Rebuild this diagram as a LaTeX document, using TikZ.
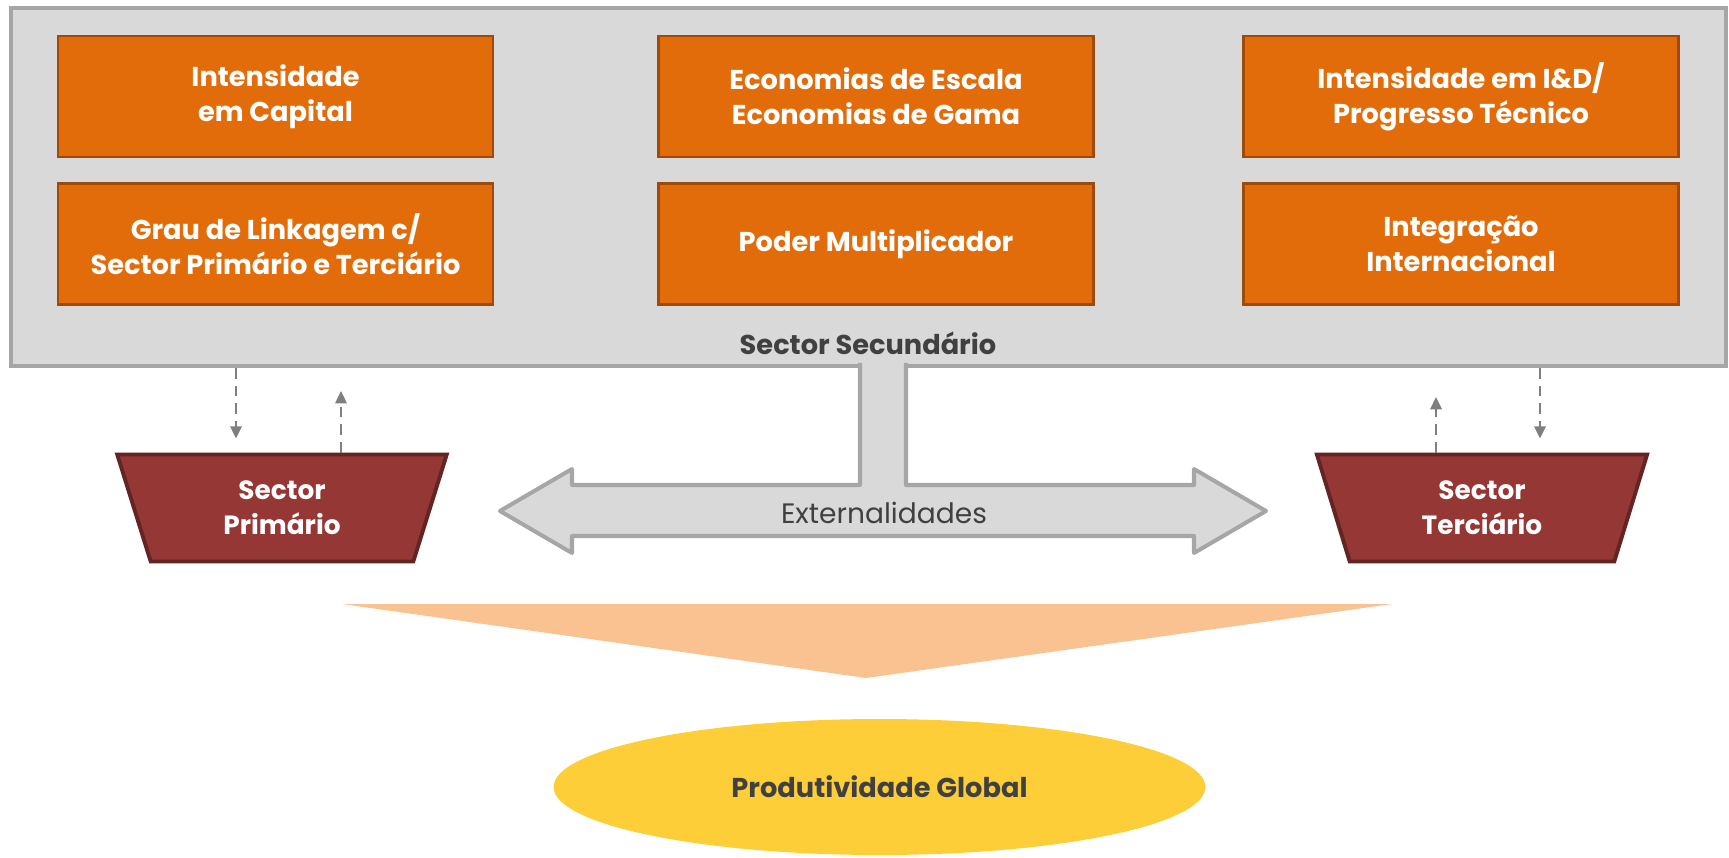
\documentclass[tikz,border=0pt]{standalone}
\usepackage{fontspec}
\setmainfont{Poppins}
\usetikzlibrary{arrows.meta, shapes.geometric}
\definecolor{boxorange}{HTML}{E36C0A}
\definecolor{boxedge}{HTML}{A04A0A}
\definecolor{secgray}{HTML}{D9D9D9}
\definecolor{secedge}{HTML}{A6A6A6}
\definecolor{sectred}{HTML}{953735}
\definecolor{sectedge}{HTML}{632523}
\definecolor{funnel}{HTML}{FAC290}
\definecolor{globyellow}{HTML}{FDCE38}
\definecolor{txtgray}{HTML}{404040}
\definecolor{dashgray}{HTML}{7F7F7F}

\tikzset{
    factor/.style={draw=boxedge, fill=boxorange, line width=1.6pt, minimum width=8.7cm, minimum height=2.42cm,
        text=white, font=\bfseries\fontsize{15.5}{20}\selectfont, align=center},
    sectorbox/.style={trapezium, shape border rotate=180, trapezium stretches=true, trapezium angle=76,
        draw=sectedge, fill=sectred, line width=2.2pt, minimum width=6.64cm, minimum height=2.14cm,
        text=white, font=\bfseries\fontsize{15}{20}\selectfont, align=center},
    flowarrow/.style={dashgray, line width=1.1pt, dash pattern=on 6pt off 4pt, -{Triangle[length=7pt, width=6.5pt]}}
}

\begin{document}
\begin{tikzpicture}[x=0.02cm, y=-0.02cm]
        \useasboundingbox (0,0) rectangle (1729,858);

        % Sector secundario
        \node[draw=secedge, fill=secgray, line width=2.3pt, minimum width=34.3cm, minimum height=7.16cm] (sec) at (868.5,187) {};
        \node[text=txtgray, font=\bfseries\fontsize{15.5}{18}\selectfont] (seclbl) at (868,343) {Sector Secundário};

        \node[factor] (capital) at (275.5,96.5) {Intensidade\\em Capital};
        \node[factor] (escala) at (876,96.5) {Economias de Escala\\Economias de Gama};
        \node[factor] (ide) at (1461,96.5) {Intensidade em I\&D/\\Progresso Técnico};
        \node[factor] (linkagem) at (275.5,244) {Grau de Linkagem c/\\Sector Primário e Terciário};
        \node[factor] (multi) at (876,244) {Poder Multiplicador};
        \node[factor] (intl) at (1461,244) {Integração\\Internacional};

        % Externalidades
        \filldraw[fill=secgray, draw=secedge, line width=2.3pt, line join=round] (860,363) -- (860,485) -- (572,485) -- (572,469)
            -- (500,511) -- (572,553) -- (572,536) -- (1194,536) -- (1194,553) -- (1266,511) -- (1194,469) -- (1194,485)
            -- (906,485) -- (906,363);
        \node[text=txtgray, font=\fontsize{16}{18}\selectfont] (ext) at (884,513) {Externalidades};

        % Primario / terciario
        \node[sectorbox] (prim) at (282,508) {Sector\\Primário};
        \node[sectorbox] (terc) at (1482,508) {Sector\\Terciário};

        \draw[flowarrow, shorten >=0.28cm] ([xshift=-0.92cm]prim.north |- sec.south) -- ([xshift=-0.92cm]prim.north);
        \draw[flowarrow, shorten >=0.46cm] ([xshift=1.18cm]prim.north) -- ([xshift=1.18cm]prim.north |- sec.south);
        \draw[flowarrow, shorten >=0.58cm] ([xshift=-0.92cm]terc.north) -- ([xshift=-0.92cm]terc.north |- sec.south);
        \draw[flowarrow, shorten >=0.28cm] ([xshift=1.16cm]terc.north |- sec.south) -- ([xshift=1.16cm]terc.north);

        % Produtividade
        \fill[funnel] (342,604) -- (1392,604) -- (866,678) -- cycle;
        \node[ellipse, fill=globyellow, minimum width=13.04cm, minimum height=2.72cm, text=txtgray,
            font=\bfseries\fontsize{15.5}{18}\selectfont] (global) at (879.5,787) {Produtividade Global};
    \end{tikzpicture}
\end{document}
